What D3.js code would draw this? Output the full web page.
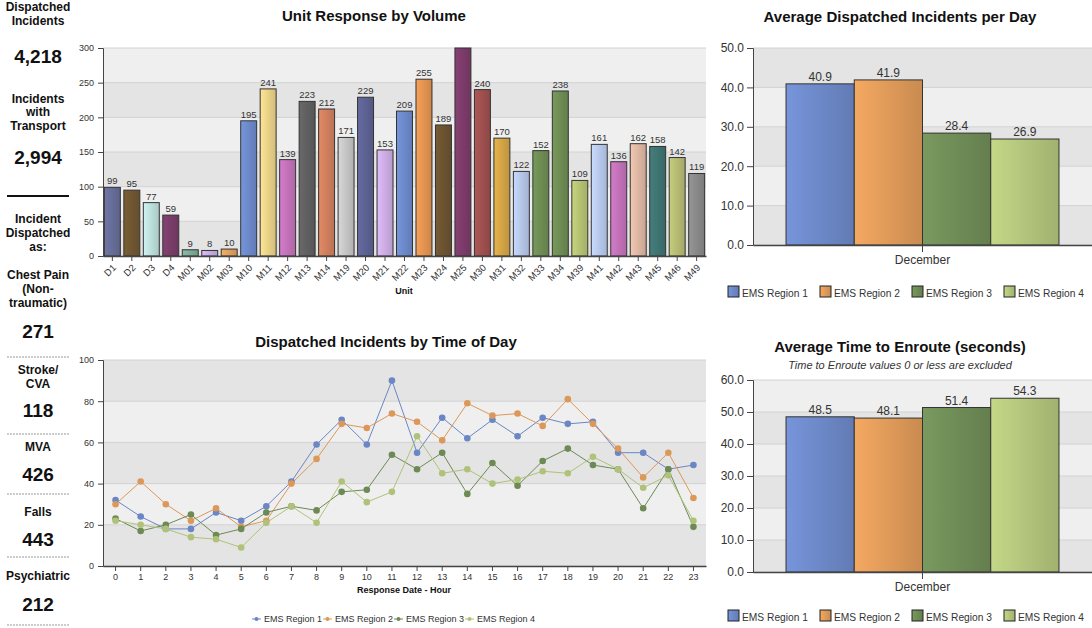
<!DOCTYPE html>
<html>
<head>
<meta charset="utf-8">
<script src="https://cdn.jsdelivr.net/npm/d3@7"></script>
<style>
  body { margin: 0; background: #fff; }
  svg { display: block; font-family: "Liberation Sans", Arial, sans-serif; }
</style>
</head>
<body>
<svg id="svg1" width="1092" height="628"></svg>
<script>
// --- data ---
var units = ["D1","D2","D3","D4","M01","M02","M03","M10","M11","M12","M13","M14","M19","M20","M21",
             "M22","M23","M24","M25","M30","M31","M32","M33","M34","M39","M41","M42","M43","M45","M46","M49"];
var unitVals = [99,95,77,59,9,8,10,195,241,139,223,212,171,229,153,
                209,255,189,300,240,170,122,152,238,109,161,136,162,158,142,119];
var unitColors = ["#656b95","#6e5530","#b9dbd8","#773c66","#7aa995","#c4abe2","#dd9c5c","#6a87c6","#e6cf85","#bf6fb6","#5e5e5e",
                  "#cc7d5c","#c2c2c2","#5b6090","#c9aae0","#6a87c6","#df9150","#6a5230","#7a3a68","#9c4e4e","#d0a245",
                  "#b2c3e4","#6c8a52","#6c8a52","#b2bf70","#b4c6ea","#bf6fb6","#dab4a0","#3d7270","#b2b870","#878787"];

var hours = d3.range(0, 24);
var regions = ["EMS Region 1","EMS Region 2","EMS Region 3","EMS Region 4"];
var regionColors = ["#6b86c5","#dc9858","#6d8a55","#b0c279"];
var r1 = [32,24,18,18,26,22,29,41,59,71,59,90,55,72,62,71,63,72,69,70,55,55,47,49];
var r2 = [30,41,30,22,28,19,22,40,52,69,67,74,70,61,79,73,74,68,81,69,57,43,55,33];
var r3 = [23,17,20,25,15,18,26,29,27,36,37,54,47,55,35,50,39,51,57,49,47,28,47,19];
var r4 = [22,20,18,14,13,9,21,29,21,41,31,36,63,45,47,40,42,46,45,53,47,38,44,22];

var avgPerDay = [40.9,41.9,28.4,26.9];
var avgEnroute = [48.5,48.1,51.4,54.3];

var sideItems = [
  {label: ["Dispatched","Incidents"], value: "4,218"},
  {label: ["Incidents","with","Transport"], value: "2,994"},
  {label: ["Chest Pain","(Non-","traumatic)"], value: "271"},
  {label: ["Stroke/","CVA"], value: "118"},
  {label: ["MVA"], value: "426"},
  {label: ["Falls"], value: "443"},
  {label: ["Psychiatric"], value: "212"}
];

var svg = d3.select("#svg1");
var defs = svg.append("defs");

// horizontal gradient: lighter left, darker right
var gradId = function (color)
{
    var id = "g" + color.replace("#", "");
    if (defs.select("#" + id).empty())
    {
        var g = defs.append("linearGradient").attr("id", id)
            .attr("x1", "0%").attr("x2", "100%").attr("y1", "0%").attr("y2", "0%");
        g.append("stop").attr("offset", "0%").attr("stop-color", d3.color(color).brighter(0.3));
        g.append("stop").attr("offset", "100%").attr("stop-color", d3.color(color).darker(0.25));
    }
    return "url(#" + id + ")";
}

// banded background + gridlines
var drawBands = function (g, y, ticks, x0, x1)
{
    for (var i = 0; i < ticks.length - 1; i++)
    {
        g.append("rect")
            .attr("x", x0).attr("width", x1 - x0)
            .attr("y", y(ticks[i + 1])).attr("height", y(ticks[i]) - y(ticks[i + 1]))
            .attr("fill", i % 2 == 0 ? "#e4e4e4" : "#efefef");
    }
    g.selectAll(".grid").data(ticks).enter().append("line")
        .attr("x1", x0).attr("x2", x1)
        .attr("y1", function (d) { return y(d); }).attr("y2", function (d) { return y(d); })
        .attr("stroke", "#d2d2d2");
}

var styleAxis = function (g, size)
{
    g.selectAll("text").attr("fill", "#333").style("font-size", size + "px")
        .style("font-family", "'Liberation Sans', Arial, sans-serif");
    g.selectAll("line").attr("stroke", "#444");
    g.select(".domain").attr("stroke", "#444");
}

// ---------------- left sidebar ----------------
var side = svg.append("g");
var sideLabelY = [[7,21],[99,112,126],[275,289,303],[370,384],[447],[512],[576]];
var sideValY = [56,157,331,410,474,539,604];
sideItems.forEach(function (d, i)
{
    d.label.forEach(function (t, j)
    {
        side.append("text").attr("x", 38).attr("y", sideLabelY[i][j] + 4)
            .attr("text-anchor", "middle").attr("font-size", 12).attr("font-weight", "bold")
            .attr("fill", "#111").text(t);
    });
    side.append("text").attr("x", 38).attr("y", sideValY[i] + 7)
        .attr("text-anchor", "middle").attr("font-size", 19).attr("font-weight", "bold")
        .attr("fill", "#111").text(d.value);
});
["Incident","Dispatched","as:"].forEach(function (t, j)
{
    side.append("text").attr("x", 38).attr("y", 223 + j * 14)
        .attr("text-anchor", "middle").attr("font-size", 12).attr("font-weight", "bold")
        .attr("fill", "#111").text(t);
});
side.append("line").attr("x1", 7).attr("x2", 69).attr("y1", 196).attr("y2", 196)
    .attr("stroke", "#111").attr("stroke-width", 2);
[357,434,494,557,625].forEach(function (yy)
{
    side.append("line").attr("x1", 7).attr("x2", 69).attr("y1", yy).attr("y2", yy)
        .attr("stroke", "#999").attr("stroke-dasharray", "2,1");
});

// ---------------- Unit Response by Volume ----------------
var top1 = svg.append("g");
var xU = d3.scaleBand().domain(units).range([103, 706]).paddingInner(0.18).paddingOuter(0.07);
var yU = d3.scaleLinear().domain([0, 300]).range([256, 48]);
var uTicks = [0,50,100,150,200,250,300];
drawBands(top1, yU, uTicks, 103, 706);

top1.selectAll(".bar").data(units).enter().append("rect")
    .attr("x", function (d) { return xU(d); })
    .attr("width", xU.bandwidth())
    .attr("y", function (d, i) { return yU(unitVals[i]); })
    .attr("height", function (d, i) { return yU(0) - yU(unitVals[i]); })
    .attr("fill", function (d, i) { return gradId(unitColors[i]); })
    .attr("stroke", "#333").attr("stroke-width", 1);

top1.selectAll(".lbl").data(units.filter(function (d, i) { return unitVals[i] < 300; })).enter().append("text")
    .attr("x", function (d) { return xU(d) + xU.bandwidth() / 2; })
    .attr("y", function (d) { return yU(unitVals[units.indexOf(d)]) - 3; })
    .attr("text-anchor", "middle").attr("font-size", 9.5).attr("fill", "#333")
    .text(function (d) { return unitVals[units.indexOf(d)]; });

var yAxU = top1.append("g").attr("transform", "translate(103,0)")
    .call(d3.axisLeft(yU).tickValues(uTicks).tickSize(5).tickPadding(4));
styleAxis(yAxU, 9);
var xAxU = top1.append("g").attr("transform", "translate(0,256)")
    .call(d3.axisBottom(xU).tickSize(5).tickSizeOuter(0));
styleAxis(xAxU, 9.5);
xAxU.selectAll("text").attr("text-anchor", "end")
    .attr("x", 0).attr("y", 0).attr("dy", "0.35em")
    .attr("transform", "translate(2,10) rotate(-45)");
xAxU.select(".domain").attr("stroke-width", 1.5);

top1.append("text").attr("x", 374).attr("y", 21).attr("text-anchor", "middle")
    .attr("font-size", 15).attr("font-weight", "bold").attr("fill", "#111").text("Unit Response by Volume");
top1.append("text").attr("x", 404).attr("y", 294).attr("text-anchor", "middle")
    .attr("font-size", 9).attr("font-weight", "bold").attr("fill", "#111").text("Unit");

// ---------------- Dispatched Incidents by Time of Day ----------------
var lc = svg.append("g");
var xH = d3.scaleBand().domain(hours).range([103, 706]);
var yH = d3.scaleLinear().domain([0, 100]).range([566, 360]);
var hTicks = [0,20,40,60,80,100];
drawBands(lc, yH, hTicks, 103, 706);

var series = [r1, r2, r3, r4];
var line = d3.line()
    .x(function (d, i) { return xH(hours[i]) + xH.bandwidth() / 2; })
    .y(function (d) { return yH(d); });
series.forEach(function (s, k)
{
    lc.append("path").datum(s).attr("d", line)
        .attr("fill", "none").attr("stroke", regionColors[k]).attr("stroke-width", 1);
});
series.forEach(function (s, k)
{
    lc.selectAll(".dot" + k).data(s).enter().append("circle")
        .attr("cx", function (d, i) { return xH(hours[i]) + xH.bandwidth() / 2; })
        .attr("cy", function (d) { return yH(d); })
        .attr("r", 3.3).attr("fill", regionColors[k]);
});

var yAxH = lc.append("g").attr("transform", "translate(103,0)")
    .call(d3.axisLeft(yH).tickValues(hTicks).tickSize(5).tickPadding(4));
styleAxis(yAxH, 9);
var xAxH = lc.append("g").attr("transform", "translate(0,566)")
    .call(d3.axisBottom(xH).tickSize(5).tickSizeOuter(0).tickPadding(3));
styleAxis(xAxH, 9);
xAxH.select(".domain").attr("stroke-width", 1.5);

lc.append("text").attr("x", 386).attr("y", 347).attr("text-anchor", "middle")
    .attr("font-size", 15).attr("font-weight", "bold").attr("fill", "#111").text("Dispatched Incidents by Time of Day");
lc.append("text").attr("x", 404).attr("y", 593).attr("text-anchor", "middle")
    .attr("font-size", 9).attr("font-weight", "bold").attr("fill", "#111").text("Response Date - Hour");

var lgL = lc.append("g").attr("transform", "translate(252,619)");
regions.forEach(function (r, k)
{
    var g = lgL.append("g").attr("transform", "translate(" + (k * 71) + ",0)");
    g.append("line").attr("x1", 0).attr("x2", 9).attr("y1", 0).attr("y2", 0)
        .attr("stroke", regionColors[k]);
    g.append("circle").attr("cx", 4.5).attr("cy", 0).attr("r", 2).attr("fill", regionColors[k]);
    g.append("text").attr("x", 12).attr("y", 3).attr("font-size", 9).attr("fill", "#333").text(r);
});

// ---------------- right region charts ----------------
var regionChart = function (vals, yTop, yBot, maxV, title, subtitle, titleY, legendY)
{
    var g = svg.append("g");
    var y = d3.scaleLinear().domain([0, maxV]).range([yBot, yTop]);
    var ticks = d3.range(0, maxV + 1, 10);
    var x0 = d3.scaleBand().domain(["December"]).range([753, 1092]).paddingInner(0).paddingOuter(0.121);
    var x1 = d3.scaleBand().domain(regions).range([0, x0.bandwidth()]);
    drawBands(g, y, ticks, 753, 1092);

    g.selectAll(".rb").data(regions).enter().append("rect")
        .attr("x", function (d) { return x0("December") + x1(d); })
        .attr("width", x1.bandwidth())
        .attr("y", function (d, i) { return y(vals[i]); })
        .attr("height", function (d, i) { return y(0) - y(vals[i]); })
        .attr("fill", function (d, i) { return gradId(regionColors[i]); })
        .attr("stroke", "#333").attr("stroke-width", 1);
    g.selectAll(".rl").data(regions).enter().append("text")
        .attr("x", function (d) { return x0("December") + x1(d) + x1.bandwidth() / 2; })
        .attr("y", function (d, i) { return y(vals[i]) - 3; })
        .attr("text-anchor", "middle").attr("font-size", 12).attr("fill", "#333")
        .text(function (d, i) { return d3.format(".1f")(vals[i]); });

    var ya = g.append("g").attr("transform", "translate(753,0)")
        .call(d3.axisLeft(y).tickValues(ticks).tickFormat(d3.format(".1f")).tickSize(6).tickPadding(3));
    styleAxis(ya, 12);
    var xa = g.append("g").attr("transform", "translate(0," + yBot + ")")
        .call(d3.axisBottom(x0).tickSize(7).tickSizeOuter(0).tickPadding(3));
    styleAxis(xa, 12);
    xa.select(".domain").attr("stroke-width", 1.5);

    g.append("text").attr("x", 900).attr("y", titleY).attr("text-anchor", "middle")
        .attr("font-size", 15).attr("font-weight", "bold").attr("fill", "#111").text(title);
    if (subtitle)
        g.append("text").attr("x", 900).attr("y", titleY + 17).attr("text-anchor", "middle")
            .attr("font-size", 11).attr("font-style", "italic").attr("fill", "#333").text(subtitle);

    var lg = g.append("g").attr("transform", "translate(728," + legendY + ")");
    regions.forEach(function (r, k)
    {
        var it = lg.append("g").attr("transform", "translate(" + (k * 92) + ",0)");
        it.append("text").attr("x", 14).attr("y", 4.5).attr("font-size", 11.5)
            .attr("textLength", 66).attr("lengthAdjust", "spacingAndGlyphs")
            .attr("fill", "#333").text(r);
        it.append("rect").attr("x", 0).attr("y", -6).attr("width", 11).attr("height", 11)
            .attr("fill", gradId(regionColors[k])).attr("stroke", "#222");
    });
    return g;
}

regionChart(avgPerDay, 48, 245, 50, "Average Dispatched Incidents per Day", null, 22, 292);
regionChart(avgEnroute, 380, 572, 60, "Average Time to Enroute (seconds)",
    "Time to Enroute values 0 or less are excluded", 352, 616);
</script>
</body>
</html>
